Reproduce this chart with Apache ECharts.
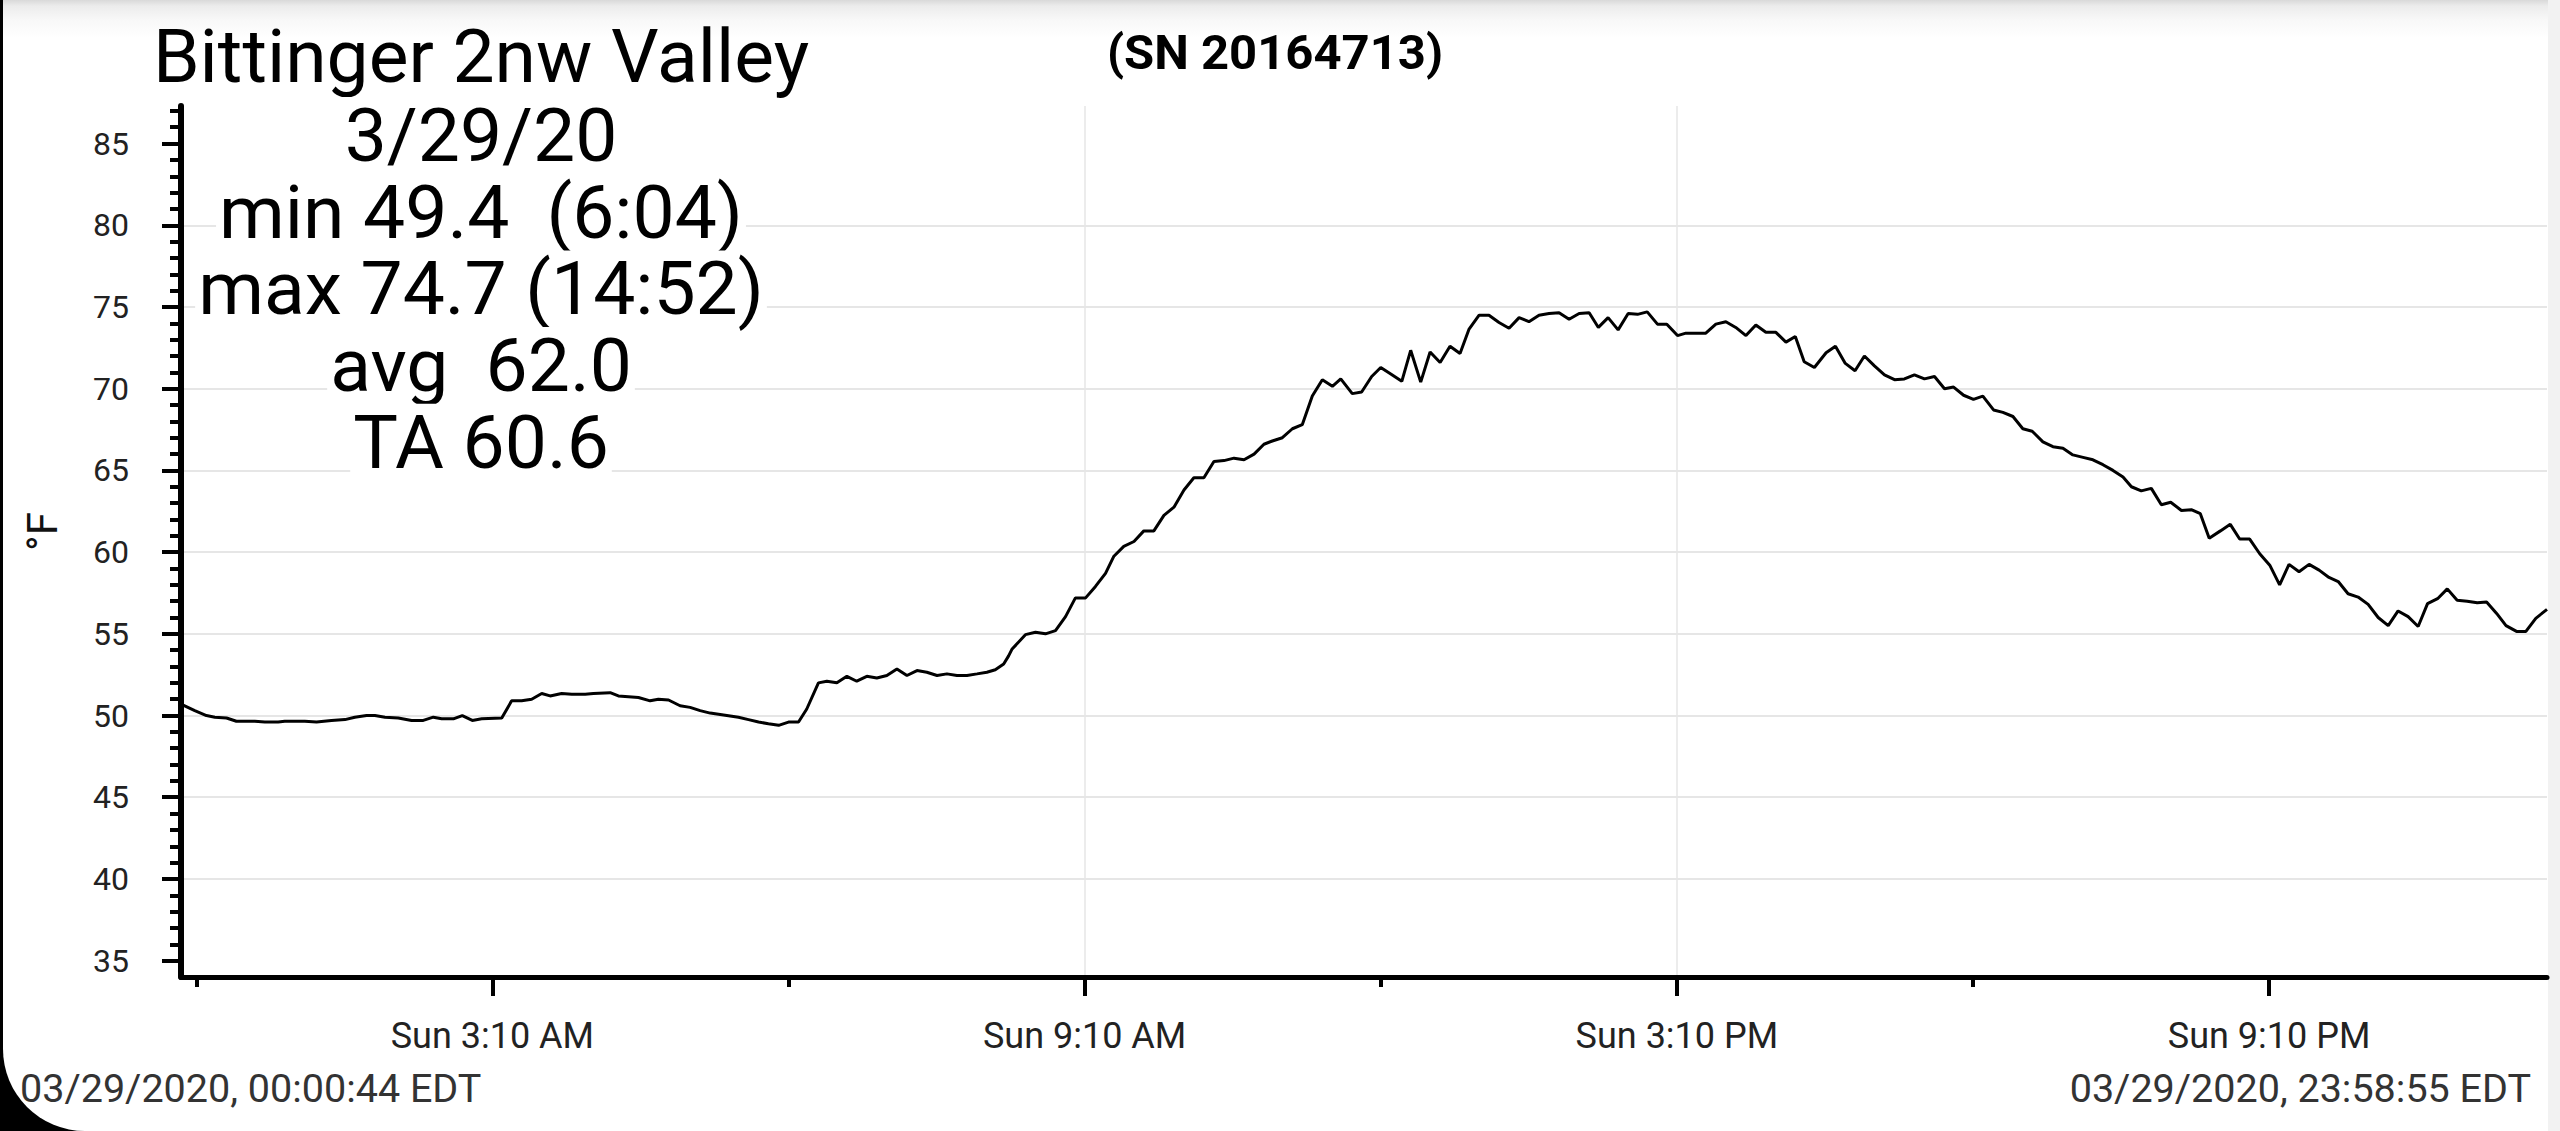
<!DOCTYPE html>
<html>
<head>
<meta charset="utf-8">
<title>Bittinger 2nw Valley</title>
<script src="https://cdn.jsdelivr.net/npm/echarts@6.0.0/dist/echarts.min.js"></script>
<style>
  html, body { margin: 0; padding: 0; width: 2560px; height: 1131px; overflow: hidden; background: #000; }
  #frame {
    position: absolute; left: 3px; top: 0; right: 0; bottom: 0;
    background: linear-gradient(#d9d9d9 0px, #ececec 6px, #f8f8f8 20px, #ffffff 38px);
    border-bottom-left-radius: 82px;
  }
  #edge { position: absolute; right: 0; top: 0; bottom: 0; width: 12px; background: #f2f2f2; }
  #chart { position: absolute; left: 0; top: 0; width: 2560px; height: 1131px; }
</style>
</head>
<body>
<div id="frame"></div>
<div id="edge"></div>
<div id="chart"></div>
<script>
// station / header texts
var stationName = 'Bittinger 2nw Valley';
var serialText = '(SN 20164713)';
var statLines = ['3/29/20', 'min 49.4  (6:04)', 'max 74.7 (14:52)', 'avg  62.0', 'TA 60.6'];
var startStamp = '03/29/2020, 00:00:44 EDT';
var endStamp = '03/29/2020, 23:58:55 EDT';

// labelled time ticks (minutes after midnight)
var timeTickMinutes = [190, 550, 910, 1270];
var timeTickLabels = ['Sun 3:10 AM', 'Sun 9:10 AM', 'Sun 3:10 PM', 'Sun 9:10 PM'];

// temperature axis
var tempTicks = [35, 40, 45, 50, 55, 60, 65, 70, 75, 80, 85];
var tempMin = 34;
var tempMax = 87.3;

// readings: minutes after midnight and temperature in °F
var timeMin = [
  0.73, 9.1, 16.2, 21.3, 28.4, 34.4, 45.6, 51.7, 59.8, 63.8,
  76.0, 83.1, 92.2, 100.4, 106.4, 113.5, 118.6, 124.7, 132.8, 140.9,
  148.0, 154.1, 159.2, 166.3, 171.7, 177.8, 183.5, 195.7, 201.7, 207.8,
  213.9, 220.0, 225.1, 232.1, 238.3, 246.4, 251.4, 261.6, 266.6, 272.7,
  278.8, 285.9, 290.9, 297.1, 304.1, 310.2, 316.3, 322.4, 329.5, 339.6,
  345.7, 351.8, 357.8, 364.0, 370.0, 376.1, 381.1, 388.2, 393.3, 399.4,
  405.5, 411.5, 417.6, 423.7, 429.8, 435.9, 442.0, 448.1, 454.1, 460.3,
  466.3, 472.4, 478.5, 484.6, 490.6, 495.7, 500.8, 503.8, 505.8, 514.0,
  520.1, 526.2, 532.3, 538.4, 544.4, 550.6, 556.6, 562.7, 567.8, 573.8,
  580.0, 586.0, 592.1, 598.2, 604.3, 610.4, 616.4, 622.5, 628.6, 634.7,
  640.8, 646.9, 653.0, 659.0, 664.1, 670.2, 676.3, 682.3, 688.4, 694.5,
  700.6, 705.7, 712.7, 718.4, 724.5, 730.0, 736.1, 742.8, 748.2, 754.3,
  760.0, 766.1, 772.1, 778.2, 783.7, 789.8, 795.8, 801.9, 808.0, 814.1,
  820.1, 826.2, 832.3, 838.4, 844.5, 850.6, 856.7, 862.3, 868.2, 874.3,
  880.4, 886.1, 892.0, 898.2, 903.9, 910.4, 915.5, 921.5, 927.6, 933.7,
  939.8, 945.8, 952.0, 958.0, 964.1, 970.2, 976.3, 982.0, 987.4, 993.6,
  1000.7, 1006.4, 1012.4, 1018.3, 1024.0, 1030.1, 1036.2, 1042.3, 1048.3, 1054.4,
  1060.5, 1066.6, 1072.7, 1078.2, 1084.3, 1090.3, 1096.0, 1102.5, 1108.2, 1114.3,
  1120.3, 1126.0, 1132.5, 1138.6, 1144.7, 1150.7, 1156.9, 1162.9, 1169.0, 1175.1,
  1181.2, 1186.3, 1192.3, 1198.4, 1204.5, 1210.2, 1216.7, 1222.7, 1228.2, 1233.6,
  1240.4, 1246.4, 1252.1, 1258.2, 1264.3, 1270.4, 1276.4, 1282.1, 1288.2, 1294.3,
  1300.4, 1306.4, 1312.0, 1318.0, 1324.1, 1330.2, 1336.3, 1342.4, 1348.4, 1354.5,
  1360.6, 1366.3, 1372.4, 1378.3, 1384.3, 1390.4, 1396.5, 1402.2, 1408.3, 1414.0,
  1420.4, 1426.1, 1432.1, 1438.92
];
var tempF = [
  50.7, 50.3, 50.0, 49.9, 49.85, 49.65, 49.65, 49.6, 49.6, 49.65,
  49.65, 49.6, 49.7, 49.75, 49.9, 50.0, 50.0, 49.9, 49.85, 49.7,
  49.7, 49.9, 49.8, 49.8, 50.0, 49.7, 49.8, 49.85, 50.9, 50.9,
  51.0, 51.35, 51.2, 51.35, 51.3, 51.3, 51.35, 51.4, 51.2, 51.15,
  51.1, 50.9, 51.0, 50.95, 50.6, 50.5, 50.3, 50.15, 50.05, 49.9,
  49.75, 49.6, 49.5, 49.4, 49.6, 49.6, 50.4, 52.0, 52.1, 52.0,
  52.4, 52.1, 52.4, 52.3, 52.45, 52.85, 52.45, 52.75, 52.65, 52.45,
  52.55, 52.45, 52.45, 52.55, 52.65, 52.8, 53.15, 53.65, 54.05, 54.95,
  55.1, 55.0, 55.2, 56.05, 57.2, 57.2, 57.9, 58.7, 59.75, 60.35,
  60.65, 61.3, 61.3, 62.25, 62.75, 63.8, 64.55, 64.55, 65.55, 65.6,
  65.75, 65.65, 66.0, 66.6, 66.8, 67.0, 67.55, 67.8, 69.55, 70.55,
  70.15, 70.6, 69.7, 69.8, 70.75, 71.3, 70.9, 70.45, 72.35, 70.4,
  72.25, 71.6, 72.6, 72.15, 73.65, 74.5, 74.5, 74.05, 73.7, 74.35,
  74.1, 74.5, 74.6, 74.65, 74.25, 74.6, 74.65, 73.75, 74.35, 73.6,
  74.6, 74.55, 74.7, 73.95, 73.95, 73.25, 73.4, 73.4, 73.4, 73.95,
  74.1, 73.75, 73.25, 73.9, 73.45, 73.45, 72.85, 73.2, 71.65, 71.3,
  72.2, 72.6, 71.55, 71.1, 72.0, 71.4, 70.85, 70.55, 70.6, 70.85,
  70.6, 70.75, 70.0, 70.1, 69.6, 69.35, 69.55, 68.7, 68.55, 68.3,
  67.55, 67.4, 66.75, 66.45, 66.35, 65.95, 65.8, 65.65, 65.35, 65.0,
  64.6, 64.0, 63.75, 63.9, 62.9, 63.05, 62.55, 62.6, 62.35, 60.85,
  61.3, 61.7, 60.8, 60.8, 59.9, 59.2, 58.0, 59.25, 58.8, 59.25,
  58.9, 58.45, 58.2, 57.45, 57.25, 56.8, 56.0, 55.5, 56.4, 56.05,
  55.45, 56.85, 57.15, 57.75, 57.05, 57.0, 56.9, 56.95, 56.25, 55.5,
  55.15, 55.15, 55.95, 56.5
];

// x is measured from the first labelled tick so the 6 h ticks fall on multiples of 360
var T0 = timeTickMinutes[0];
var seriesData = timeMin.map(function (t, i) { return [t - T0, tempF[i]]; });
var timeTickValues = timeTickMinutes.map(function (m) { return m - T0; });

var FONT = 'Roboto';

var myChart = echarts.init(document.getElementById('chart'), null, { renderer: 'svg' });

var graphics = [
  { type: 'text', x: 481, y: 56, z: 100,
    style: { text: stationName, fontSize: 75, lineHeight: 76, fontFamily: FONT, fill: '#000', align: 'center', verticalAlign: 'middle' } },
  { type: 'text', x: 1275, y: 52, z: 100,
    style: { text: serialText, fontSize: 49, fontWeight: 'bold', fontFamily: FONT, fill: '#000', align: 'center', verticalAlign: 'middle' } },
  { type: 'text', x: 20, y: 1088, z: 100,
    style: { text: startStamp, fontSize: 39.5, fontFamily: FONT, fill: '#333', align: 'left', verticalAlign: 'middle' } },
  { type: 'text', x: 2531, y: 1088, z: 100,
    style: { text: endStamp, fontSize: 39.5, fontFamily: FONT, fill: '#333', align: 'right', verticalAlign: 'middle' } }
];
// each stat line sits on its own white box, hiding the grid behind it
statLines.forEach(function (s, i) {
  graphics.push({ type: 'text', x: 481, y: 135 + i * 76.7, z: 100,
    style: {
      text: s, fontSize: 75, lineHeight: 76, fontFamily: FONT, fill: '#000', align: 'center', verticalAlign: 'middle',
      backgroundColor: '#fff', padding: [0, 3]
    } });
});

var option = {
  backgroundColor: 'transparent',
  animation: false,
  textStyle: { fontFamily: FONT },
  grid: { left: 181, right: 13, top: 106, bottom: 154, outerBoundsMode: 'none' },
  xAxis: {
    type: 'value',
    min: timeMin[0] - T0,
    max: timeMin[timeMin.length - 1] - T0,
    minInterval: 360,
    maxInterval: 360,
    axisLine: { show: true, onZero: false, lineStyle: { color: '#000', width: 5 } },
    axisTick: { show: true, customValues: timeTickValues, length: 19, lineStyle: { color: '#000', width: 4 } },
    minorTick: { show: true, splitNumber: 2, length: 10, lineStyle: { color: '#000', width: 4 } },
    axisLabel: {
      margin: 41, fontSize: 36, color: '#222', fontFamily: FONT,
      formatter: function (v) {
        var i = timeTickMinutes.indexOf(Math.round(v + T0));
        return i >= 0 ? timeTickLabels[i] : '';
      }
    },
    splitLine: { show: true, showMinLine: false, showMaxLine: false, lineStyle: { color: '#e6e6e6', width: 1.5 } },
    minorSplitLine: { show: false }
  },
  yAxis: {
    type: 'value',
    min: tempMin,
    max: tempMax,
    minInterval: 5,
    maxInterval: 5,
    name: '°F',
    nameLocation: 'middle',
    nameGap: 118,
    nameTextStyle: { fontSize: 42, color: '#111', fontFamily: FONT, padding: [0, 0, 0, 20] },
    axisLine: { show: true, onZero: false, lineStyle: { color: '#000', width: 6 } },
    axisTick: { show: true, customValues: tempTicks, length: 19, lineStyle: { color: '#000', width: 4 } },
    minorTick: { show: true, splitNumber: 5, length: 11, lineStyle: { color: '#000', width: 4 } },
    axisLabel: {
      margin: 52, fontSize: 32, color: '#222', fontFamily: FONT,
      formatter: function (v) { return tempTicks.indexOf(v) >= 0 ? String(v) : ''; }
    },
    splitLine: { show: true, showMinLine: false, showMaxLine: false, lineStyle: { color: '#e6e6e6', width: 2 } },
    minorSplitLine: { show: false }
  },
  series: [{
    type: 'line',
    data: seriesData,
    showSymbol: false,
    symbol: 'none',
    smooth: false,
    silent: true,
    lineStyle: { color: '#000', width: 3 }
  }],
  graphic: graphics
};

myChart.setOption(option);
</script>
</body>
</html>
